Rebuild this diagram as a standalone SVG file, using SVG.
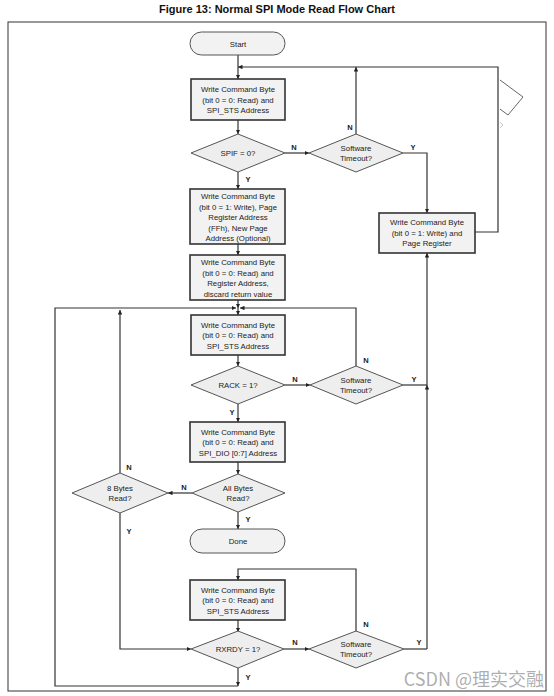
<svg xmlns="http://www.w3.org/2000/svg" width="554" height="696" viewBox="0 0 554 696">
<style>
.t{font-family:"Liberation Sans",Arial,sans-serif;font-size:7.8px;fill:#222;text-anchor:middle}
.lb{font-family:"Liberation Sans",Arial,sans-serif;font-size:7.5px;font-weight:bold;fill:#222;text-anchor:middle}
.box{fill:#f2f2f2;stroke:#333;stroke-width:1.6}
.dia{fill:#eeeeee;stroke:#555;stroke-width:1}
.term{fill:#f2f2f2;stroke:#555;stroke-width:1}
.c{fill:none;stroke:#333;stroke-width:1.2}
</style>
<defs>
<marker id="ah" viewBox="0 0 10 10" refX="10" refY="5" markerWidth="4.5" markerHeight="4.5" orient="auto" markerUnits="userSpaceOnUse"><path d="M0,0 L10,5 L0,10 z" fill="#222"/></marker>
</defs>
<rect width="554" height="696" fill="#ffffff"/>
<text x="277" y="13" font-family="'Liberation Sans',Arial,sans-serif" font-size="11" font-weight="bold" text-anchor="middle" fill="#111">Figure 13:  Normal SPI Mode Read Flow Chart</text>
<rect x="8" y="22" width="538" height="669" fill="none" stroke="#333" stroke-width="1"/>
<polyline points="500,80 523,97 508,115 500,109" fill="none" stroke="#666" stroke-width="1"/>
<polyline points="500,122 503,125 500,128" fill="none" stroke="#bbb" stroke-width="0.8"/>

<g id="connectors">
<path class="c" d="M238,55 V79" marker-end="url(#ah)"/>
<path class="c" d="M238,120 V134" marker-end="url(#ah)"/>
<path class="c" d="M285,153 H309" marker-end="url(#ah)"/>
<path class="c" d="M356,134 V67" marker-end="url(#ah)"/>
<path class="c" d="M403,153 H427 V213" marker-end="url(#ah)"/>
<path class="c" d="M475,232 H498 V67 H238" marker-end="url(#ah)"/>
<path class="c" d="M238,172 V189" marker-end="url(#ah)"/>
<path class="c" d="M238,244 V255" marker-end="url(#ah)"/>
<path class="c" d="M238,300 V308" marker-end="url(#ah)"/>
<path class="c" d="M238,686 H55 V308 H236" marker-end="url(#ah)"/>
<path class="c" d="M356,366 V308 H240" marker-end="url(#ah)"/>
<path class="c" d="M238,308 V315" marker-end="url(#ah)"/>
<path class="c" d="M238,355 V366" marker-end="url(#ah)"/>
<path class="c" d="M285,385 H310" marker-end="url(#ah)"/>
<path class="c" d="M403,385 H427"/>
<path class="c" d="M427,649 V385" marker-end="url(#ah)"/>
<path class="c" d="M427,385 V253" marker-end="url(#ah)"/>
<path class="c" d="M238,404 V422" marker-end="url(#ah)"/>
<path class="c" d="M238,462 V474" marker-end="url(#ah)"/>
<path class="c" d="M192,493 H168" marker-end="url(#ah)"/>
<path class="c" d="M238,512 V529" marker-end="url(#ah)"/>
<path class="c" d="M120,473 V310" marker-end="url(#ah)"/>
<path class="c" d="M120,513 V649 H191" marker-end="url(#ah)"/>
<path class="c" d="M356,632 V569 H238 V580" marker-end="url(#ah)"/>
<path class="c" d="M238,620 V632" marker-end="url(#ah)"/>
<path class="c" d="M284,649 H309" marker-end="url(#ah)"/>
<path class="c" d="M404,649 H427"/>
<path class="c" d="M238,668 V686" marker-end="url(#ah)"/>
<text class="lb" x="294" y="150">N</text>
<text class="lb" x="350" y="130">N</text>
<text class="lb" x="413" y="150">Y</text>
<text class="lb" x="248" y="182">Y</text>
<text class="lb" x="295" y="382">N</text>
<text class="lb" x="366" y="363">N</text>
<text class="lb" x="414" y="382">Y</text>
<text class="lb" x="232" y="415">Y</text>
<text class="lb" x="184" y="490">N</text>
<text class="lb" x="248" y="522">Y</text>
<text class="lb" x="129" y="470">N</text>
<text class="lb" x="129" y="534">Y</text>
<text class="lb" x="366" y="627">N</text>
<text class="lb" x="295" y="645">N</text>
<text class="lb" x="419" y="645">Y</text>
<text class="lb" x="248" y="680">Y</text>
</g>

<g id="start">
<rect class="term" x="190" y="32" width="95" height="23" rx="11.5"/>
<text class="t" x="238" y="46.5">Start</text>
</g>
<g id="box1">
<rect class="box" x="191" y="79" width="94" height="41"/>
<text class="t" x="238" y="92">Write Command Byte</text>
<text class="t" x="238" y="102.5">(bit 0 = 0: Read) and</text>
<text class="t" x="238" y="113">SPI_STS Address</text>
</g>
<g id="spif">
<polygon class="dia" points="238,134 285,153 238,172 191,153"/>
<text class="t" x="238" y="156">SPIF = 0?</text>
</g>
<g id="sw1">
<polygon class="dia" points="356,134 403,153 356,172 309,153"/>
<text class="t" x="356" y="151">Software</text>
<text class="t" x="356" y="161">Timeout?</text>
</g>
<g id="pagereg">
<rect class="box" x="379" y="213" width="96" height="40"/>
<text class="t" x="427" y="225">Write Command Byte</text>
<text class="t" x="427" y="235.5">(bit 0 = 1: Write) and</text>
<text class="t" x="427" y="246">Page Register</text>
</g>
<g id="box2">
<rect class="box" x="190" y="189" width="95" height="55"/>
<text class="t" x="238" y="199">Write Command Byte</text>
<text class="t" x="238" y="209.5">(bit 0 = 1: Write), Page</text>
<text class="t" x="238" y="220">Register Address</text>
<text class="t" x="238" y="230.5">(FFh), New Page</text>
<text class="t" x="238" y="241">Address (Optional)</text>
</g>
<g id="box3">
<rect class="box" x="190" y="255" width="95" height="45"/>
<text class="t" x="238" y="265">Write Command Byte</text>
<text class="t" x="238" y="275.5">(bit 0 = 0: Read) and</text>
<text class="t" x="238" y="286">Register Address,</text>
<text class="t" x="238" y="296.5">discard return value</text>
</g>
<g id="box4">
<rect class="box" x="191" y="315" width="94" height="40"/>
<text class="t" x="238" y="327.5">Write Command Byte</text>
<text class="t" x="238" y="338">(bit 0 = 0: Read) and</text>
<text class="t" x="238" y="348.5">SPI_STS Address</text>
</g>
<g id="rack">
<polygon class="dia" points="238,366 285,385 238,404 191,385"/>
<text class="t" x="238" y="388">RACK = 1?</text>
</g>
<g id="sw2">
<polygon class="dia" points="356,366 403,385 356,404 310,385"/>
<text class="t" x="356" y="383">Software</text>
<text class="t" x="356" y="393">Timeout?</text>
</g>
<g id="box5">
<rect class="box" x="190" y="422" width="95" height="40"/>
<text class="t" x="238" y="434.5">Write Command Byte</text>
<text class="t" x="238" y="445">(bit 0 = 0: Read) and</text>
<text class="t" x="238" y="455.5">SPI_DIO [0:7] Address</text>
</g>
<g id="allbytes">
<polygon class="dia" points="238,474 285,493 238,512 192,493"/>
<text class="t" x="238" y="491">All Bytes</text>
<text class="t" x="238" y="501">Read?</text>
</g>
<g id="eightbytes">
<polygon class="dia" points="120,473 168,493 120,513 72,493"/>
<text class="t" x="120" y="491">8 Bytes</text>
<text class="t" x="120" y="501">Read?</text>
</g>
<g id="done">
<rect class="term" x="190" y="529" width="95" height="24" rx="12"/>
<text class="t" x="238" y="544">Done</text>
</g>
<g id="box6">
<rect class="box" x="190" y="580" width="95" height="40"/>
<text class="t" x="238" y="592.5">Write Command Byte</text>
<text class="t" x="238" y="603">(bit 0 = 0: Read) and</text>
<text class="t" x="238" y="613.5">SPI_STS Address</text>
</g>
<g id="rxrdy">
<polygon class="dia" points="238,631 284,649 238,668 191,649"/>
<text class="t" x="238" y="652">RXRDY = 1?</text>
</g>
<g id="sw3">
<polygon class="dia" points="356,631 404,649 356,668 309,649"/>
<text class="t" x="356" y="647">Software</text>
<text class="t" x="356" y="657">Timeout?</text>
</g>
<text x="544" y="686" font-family="'Noto Sans CJK SC','Noto Sans',sans-serif" font-size="18" fill="#a0a0a0" fill-opacity="0.85" text-anchor="end">CSDN @理实交融</text>
</svg>
